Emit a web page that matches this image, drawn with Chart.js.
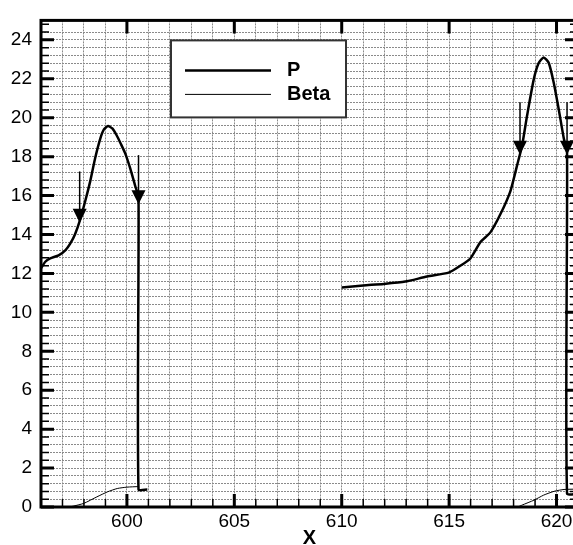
<!DOCTYPE html>
<html>
<head>
<meta charset="utf-8">
<script src="https://cdn.jsdelivr.net/npm/chart.js@4.4.0/dist/chart.umd.min.js"></script>
<style>
  html, body { margin: 0; padding: 0; overflow: hidden; background: #fff; }
  canvas { display: block; }
</style>
</head>
<body>
<canvas id="myChart" width="590" height="545"></canvas>
<script>
// P, left hump (ends with the vertical drop)
const pLeftX = [596.0, 596.2, 596.43, 596.82, 597.13, 597.36, 597.59, 597.83, 598.06, 598.29, 598.52, 598.76, 598.93, 599.12, 599.32, 599.52, 599.72, 599.92, 600.15, 600.39, 600.54, 600.54, 600.95];
const pLeftY = [12.26, 12.6, 12.77, 12.93, 13.19, 13.53, 14.03, 14.79, 15.72, 16.73, 17.92, 18.93, 19.4, 19.57, 19.45, 19.1, 18.65, 18.17, 17.41, 16.48, 15.89, 0.9, 0.9];

// P, right part
const pRightX = [610.0, 611.0, 611.95, 612.96, 613.97, 614.98, 615.5, 615.99, 616.46, 616.92, 617.39, 617.85, 618.17, 618.4, 618.63, 618.94, 619.17, 619.4, 619.64, 619.87, 620.1, 620.34, 620.49, 620.49, 621.0];
const pRightY = [11.28, 11.38, 11.46, 11.58, 11.84, 12.04, 12.38, 12.77, 13.61, 14.11, 15.05, 16.22, 17.58, 18.59, 20.11, 21.97, 22.81, 23.1, 22.81, 21.8, 20.45, 18.93, 18.25, 0.69, 0.69];

// Beta
const betaLeftX = [597.3, 597.53, 598.0, 598.6, 599.1, 599.55, 600.0, 600.54];
const betaLeftY = [0.0, 0.05, 0.19, 0.52, 0.78, 0.95, 1.02, 1.05];
const betaRightX = [618.2, 618.4, 618.95, 619.4, 619.9, 620.35, 621.0];
const betaRightY = [0.0, 0.1, 0.35, 0.61, 0.81, 0.9, 0.92];

// arrows (x, top of shaft, tip)
const arrowX = [597.8, 600.54, 618.3, 620.49];
const arrowTop = [17.24, 18.08, 20.8, 20.8];
const arrowTip = [14.6, 15.55, 18.1, 18.1];

const xTickLabels = [600, 605, 610, 615, 620];
const yTickLabels = [0, 2, 4, 6, 8, 10, 12, 14, 16, 18, 20, 22, 24];

function toPoints(xs, ys) {
  return xs.map((v, i) => ({ x: v, y: ys[i] }));
}

// join two pieces with a null so the line breaks
const pData = toPoints(pLeftX, pLeftY).concat([{ x: 605, y: null }], toPoints(pRightX, pRightY));
const betaData = toPoints(betaLeftX, betaLeftY).concat([{ x: 610, y: null }], toPoints(betaRightX, betaRightY));

Chart.defaults.font.family = '"Liberation Sans", Arial, sans-serif';
Chart.defaults.font.size = 19;
Chart.defaults.color = '#000';

// frame and inward ticks on all four sides
const frameTicks = {
  id: 'frameTicks',
  beforeDatasetsDraw(chart) {
    const { ctx, chartArea: a, scales: { x, y } } = chart;
    ctx.save();
    ctx.strokeStyle = '#000';
    for (let v = 596; v <= 621; v++) {
      const px = x.getPixelForValue(v);
      const major = v % 5 === 0;
      ctx.lineWidth = major ? 3 : 1.5;
      ctx.beginPath();
      ctx.moveTo(px, a.bottom);
      ctx.lineTo(px, a.bottom - (major ? 13 : 8));
      if (major) {
        ctx.moveTo(px, a.top);
        ctx.lineTo(px, a.top + 13);
      }
      ctx.stroke();
    }
    for (let k = 0; k <= 62; k++) {
      const v = Math.round(k * 0.4 * 10) / 10;
      const py = y.getPixelForValue(v);
      const major = k % 5 === 0;
      const len = major ? 13 : 8;
      ctx.lineWidth = major ? 3 : 1.5;
      ctx.beginPath();
      ctx.moveTo(a.left, py);
      ctx.lineTo(a.left + len, py);
      ctx.moveTo(a.right, py);
      ctx.lineTo(a.right - len, py);
      ctx.stroke();
    }
    ctx.lineWidth = 3;
    ctx.strokeRect(a.left, a.top, a.right - a.left, a.bottom - a.top);
    ctx.restore();
  },
  afterDatasetsDraw(chart) {
    const { ctx, scales: { x, y } } = chart;
    ctx.save();
    ctx.strokeStyle = '#000';
    ctx.fillStyle = '#000';
    arrowX.forEach((v, i) => {
      const px = x.getPixelForValue(v);
      const py0 = y.getPixelForValue(arrowTop[i]);
      const py1 = y.getPixelForValue(arrowTip[i]);
      ctx.lineWidth = 1.5;
      ctx.beginPath();
      ctx.moveTo(px, py0);
      ctx.lineTo(px, py1 - 10);
      ctx.stroke();
      ctx.beginPath();
      ctx.moveTo(px - 7, py1 - 14);
      ctx.lineTo(px + 7, py1 - 14);
      ctx.lineTo(px, py1);
      ctx.closePath();
      ctx.fill();
    });

    // legend box
    const a = chart.chartArea;
    const lx = a.left + 130, ly = a.top + 20, lw = 175, lh = 77;
    ctx.fillStyle = '#fff';
    ctx.fillRect(lx, ly, lw, lh);
    ctx.lineWidth = 2;
    ctx.strokeStyle = '#333';
    ctx.strokeRect(lx, ly, lw, lh);
    ctx.strokeStyle = '#000';
    ctx.lineWidth = 2.5;
    ctx.beginPath();
    ctx.moveTo(lx + 14, ly + 30);
    ctx.lineTo(lx + 100, ly + 30);
    ctx.stroke();
    ctx.lineWidth = 1;
    ctx.beginPath();
    ctx.moveTo(lx + 14, ly + 54);
    ctx.lineTo(lx + 100, ly + 54);
    ctx.stroke();
    ctx.fillStyle = '#000';
    ctx.font = 'bold 20px "Liberation Sans", Arial, sans-serif';
    ctx.textBaseline = 'middle';
    ctx.fillText('P', lx + 116, ly + 30);
    ctx.fillText('Beta', lx + 116, ly + 54);
    ctx.restore();
  }
};

const config = {
  type: 'line',
  data: {
    datasets: [
      {
        label: 'P',
        data: pData,
        borderColor: '#000',
        borderWidth: 2.5,
        pointRadius: 0,
        tension: 0.2,
        spanGaps: false
      },
      {
        label: 'Beta',
        data: betaData,
        borderColor: '#000',
        borderWidth: 1,
        pointRadius: 0,
        tension: 0.2,
        spanGaps: false
      }
    ]
  },
  options: {
    responsive: false,
    animation: false,
    layout: { padding: { top: 14, right: 12, left: 0, bottom: 0 } },
    plugins: { legend: { display: false }, tooltip: { enabled: false } },
    scales: {
      x: {
        type: 'linear',
        min: 596,
        max: 621,
        afterFit(scale) { scale.height = 38; },
        grid: { color: '#8a8a8a', lineWidth: 1, drawTicks: false },
        border: { display: false, dash: [2, 1] },
        ticks: {
          stepSize: 1,
          autoSkip: false,
          maxRotation: 0,
          padding: 3,
          callback: (v) => xTickLabels.includes(v) ? String(v) : ''
        },
        title: {
          display: true,
          text: 'X',
          font: { size: 20, weight: 'bold', lineHeight: 1 },
          padding: { top: 0, bottom: -3 }
        }
      },
      y: {
        min: 0,
        max: 25,
        afterFit(scale) { scale.width = 41; },
        grid: { color: '#8a8a8a', lineWidth: 1, drawTicks: false },
        border: { display: false, dash: [2, 1] },
        ticks: {
          stepSize: 0.4,
          autoSkip: false,
          padding: 9,
          callback: (v) => yTickLabels.includes(Math.round(v * 10) / 10) ? String(Math.round(v)) : ''
        }
      }
    }
  },
  plugins: [frameTicks]
};

const myChart = new Chart(document.getElementById('myChart'), config);
</script>
</body>
</html>
